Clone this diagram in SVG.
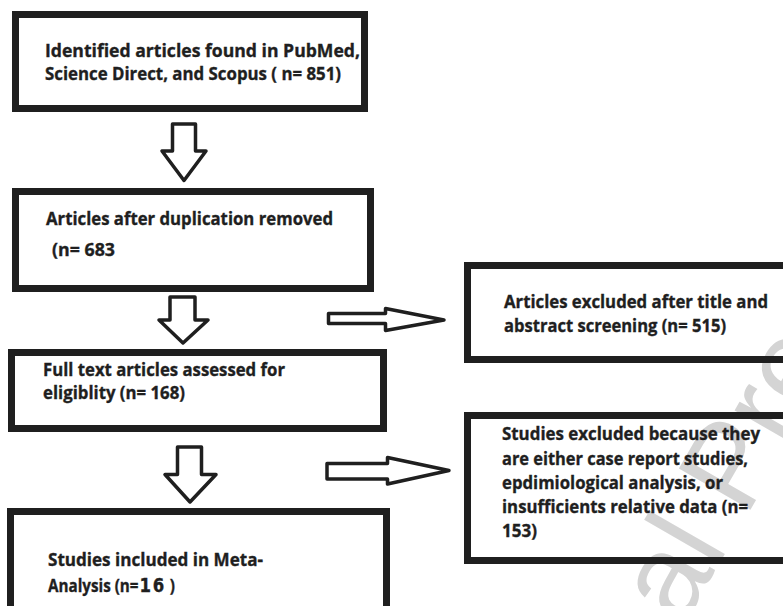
<svg xmlns="http://www.w3.org/2000/svg" width="783" height="606" viewBox="0 0 783 606">
<style>
.box{fill:none;stroke:#1f1f1f;stroke-width:7}
.arr{fill:#fff;stroke:#1f1f1f;stroke-width:3.5;stroke-linejoin:round}
.t{font-family:"Open Sans",Lato,sans-serif;font-weight:700;font-size:17.5px;fill:#1f1f1f;stroke:#1f1f1f;stroke-width:0.35}
.big{font-family:"DejaVu Sans",sans-serif;font-size:19px;letter-spacing:2px}
.wm{font-family:"Liberation Sans",Arial,sans-serif;font-size:120px;fill:#d4d4d4}
</style>
<rect width="783" height="606" fill="#fff"/>
<text class="wm" x="532" y="888" transform="rotate(-60 532 888)">Journal Pre-proof</text>
<g id="connectors">
  <polygon class="arr" points="172.5,124 195.5,124 195.5,151 206,151 184,180.5 162,151 172.5,151"/>
  <polygon class="arr" points="170,297 195,297 195,320 208,320 183,343 159,320 170,320"/>
  <polygon class="arr" points="177.5,447 201.5,447 201.5,474.5 216,474.5 190,502 165,474.5 177.5,474.5"/>
  <polygon class="arr" points="328.5,313.5 385.5,313.5 385.5,308.5 444,320 385.5,330.5 385.5,323.5 328.5,323.5"/>
  <polygon class="arr" points="327,463.5 387.5,463.5 387.5,457.5 449,470.5 387.5,484 387.5,479 327,479"/>
</g>
<g id="n1">
  <rect class="box" x="15.5" y="14.5" width="349" height="94"/>
  <text class="t" x="45" y="57" textLength="315" lengthAdjust="spacingAndGlyphs">Identified articles found in PubMed,</text>
  <text class="t" x="45" y="80" textLength="296" lengthAdjust="spacingAndGlyphs">Science Direct, and Scopus ( n= 851)</text>
</g>
<g id="n2">
  <rect class="box" x="15.5" y="191.5" width="355" height="97"/>
  <text class="t" x="46" y="225" textLength="287" lengthAdjust="spacingAndGlyphs">Articles after duplication removed</text>
  <text class="t" x="52" y="256" textLength="63" lengthAdjust="spacingAndGlyphs">(n= 683</text>
</g>
<g id="n3">
  <rect class="box" x="11.5" y="352.5" width="372" height="76"/>
  <text class="t" x="43" y="376" textLength="242" lengthAdjust="spacingAndGlyphs">Full text articles assessed for</text>
  <text class="t" x="43" y="399" textLength="142" lengthAdjust="spacingAndGlyphs">eligiblity (n= 168)</text>
</g>
<g id="n4">
  <rect class="box" x="10.5" y="511.5" width="376" height="130"/>
  <text class="t" x="48" y="566" textLength="215" lengthAdjust="spacingAndGlyphs">Studies included in Meta-</text>
  <text class="t" transform="translate(48 592) scale(0.87 1)" x="0" y="0">Analysis (n=<tspan class="big" dx="1">16</tspan><tspan> )</tspan></text>
</g>
<g id="n5">
  <rect class="box" x="467.5" y="265.5" width="340" height="94"/>
  <text class="t" x="504" y="308" textLength="264" lengthAdjust="spacingAndGlyphs">Articles excluded after title and</text>
  <text class="t" x="504" y="332" textLength="222" lengthAdjust="spacingAndGlyphs">abstract screening (n= 515)</text>
</g>
<g id="n6">
  <rect class="box" x="467.5" y="415.5" width="340" height="145"/>
  <text class="t" x="502" y="440" textLength="258" lengthAdjust="spacingAndGlyphs">Studies excluded because they</text>
  <text class="t" x="502" y="465" textLength="246" lengthAdjust="spacingAndGlyphs">are either case report studies,</text>
  <text class="t" x="502" y="489" textLength="221" lengthAdjust="spacingAndGlyphs">epdimiological analysis, or</text>
  <text class="t" x="502" y="513" textLength="246" lengthAdjust="spacingAndGlyphs">insufficients relative data (n=</text>
  <text class="t" x="502" y="537" textLength="35" lengthAdjust="spacingAndGlyphs">153)</text>
</g>
</svg>
